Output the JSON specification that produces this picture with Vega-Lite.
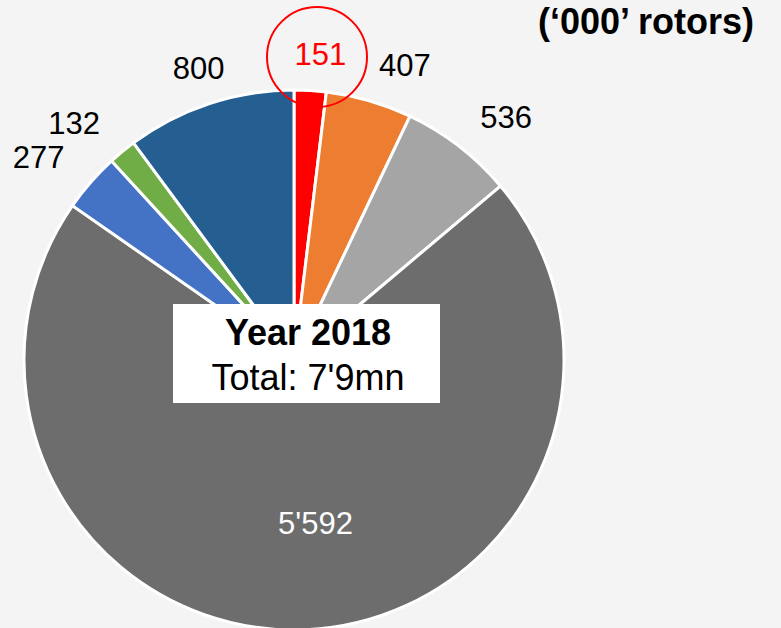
{
  "$schema": "https://vega.github.io/schema/vega-lite/v6.json",
  "width": 540,
  "height": 540,
  "autosize": "none",
  "padding": {"left": 24, "top": 90, "right": 217, "bottom": 0},
  "background": "#f4f4f4",
  "title": {
    "text": "(‘000’ rotors)",
    "anchor": "end",
    "frame": "group",
    "font": "Liberation Sans",
    "fontSize": 36,
    "fontWeight": "bold",
    "color": "#000000",
    "dx": 190,
    "dy": 49,
    "offset": 10
  },
  "config": {"view": {"stroke": null}},
  "data": {
    "values": [
      {"k": 1, "v": 151, "lbl": "151"},
      {"k": 2, "v": 407, "lbl": "407"},
      {"k": 3, "v": 536, "lbl": "536"},
      {"k": 4, "v": 5592, "lbl": "5'592"},
      {"k": 5, "v": 277, "lbl": "277"},
      {"k": 6, "v": 132, "lbl": "132"},
      {"k": 7, "v": 800, "lbl": "800"}
    ]
  },
  "layer": [
    {
      "mark": {"type": "arc", "stroke": "#ffffff", "strokeWidth": 3},
      "encoding": {
        "theta": {"field": "v", "type": "quantitative", "stack": true},
        "order": {"field": "k", "type": "quantitative"},
        "color": {
          "field": "k",
          "type": "nominal",
          "legend": null,
          "scale": {
            "domain": [1, 2, 3, 4, 5, 6, 7],
            "range": ["#ff0000", "#ed7d31", "#a5a5a5", "#6d6d6d", "#4472c4", "#70ad47", "#255e91"]
          }
        }
      }
    },
    {
      "mark": {
        "type": "text",
        "font": "Liberation Sans",
        "fontSize": 31,
        "baseline": "middle",
        "radius": {"expr": "datum.k == 4 ? 165 : 305"},
        "dx": {"expr": "datum.k == 4 ? 14 : (datum.k == 1 ? 8 : 0)"},
        "align": {"expr": "datum.k == 2 || datum.k == 3 ? 'left' : (datum.k == 5 || datum.k == 6 ? 'right' : 'center')"}
      },
      "encoding": {
        "theta": {"field": "v", "type": "quantitative", "stack": true},
        "order": {"field": "k", "type": "quantitative"},
        "text": {"field": "lbl"},
        "color": {
          "condition": [
            {"test": "datum.k == 1", "value": "#ff0000"},
            {"test": "datum.k == 4", "value": "#ffffff"}
          ],
          "value": "#000000"
        }
      }
    },
    {
      "data": {"values": [{}]},
      "mark": {
        "type": "point",
        "shape": "M-0.27,-3.03A0.5,0.5 0 1 0 0.73,-3.03A0.5,0.5 0 1 0 -0.27,-3.03Z",
        "size": 40000,
        "filled": false,
        "fill": null,
        "stroke": "#ff0000",
        "strokeWidth": 2,
        "opacity": 1
      },
      "encoding": {}
    },
    {
      "data": {"values": [{}]},
      "mark": {
        "type": "point",
        "shape": "M-1.21,-0.56H1.46V0.43H-1.21Z",
        "size": 40000,
        "filled": true,
        "fill": "#ffffff",
        "strokeWidth": 0,
        "opacity": 1
      },
      "encoding": {}
    },
    {
      "data": {"values": [{"t": "Year 2018"}]},
      "mark": {
        "type": "text",
        "font": "Liberation Sans",
        "fontSize": 36,
        "fontWeight": "bold",
        "baseline": "alphabetic",
        "align": "center",
        "dx": 14,
        "dy": -15,
        "color": "#000000"
      },
      "encoding": {"text": {"field": "t"}}
    },
    {
      "data": {"values": [{"t": "Total: 7'9mn"}]},
      "mark": {
        "type": "text",
        "font": "Liberation Sans",
        "fontSize": 36,
        "baseline": "alphabetic",
        "align": "center",
        "dx": 14,
        "dy": 30,
        "color": "#000000"
      },
      "encoding": {"text": {"field": "t"}}
    }
  ]
}
